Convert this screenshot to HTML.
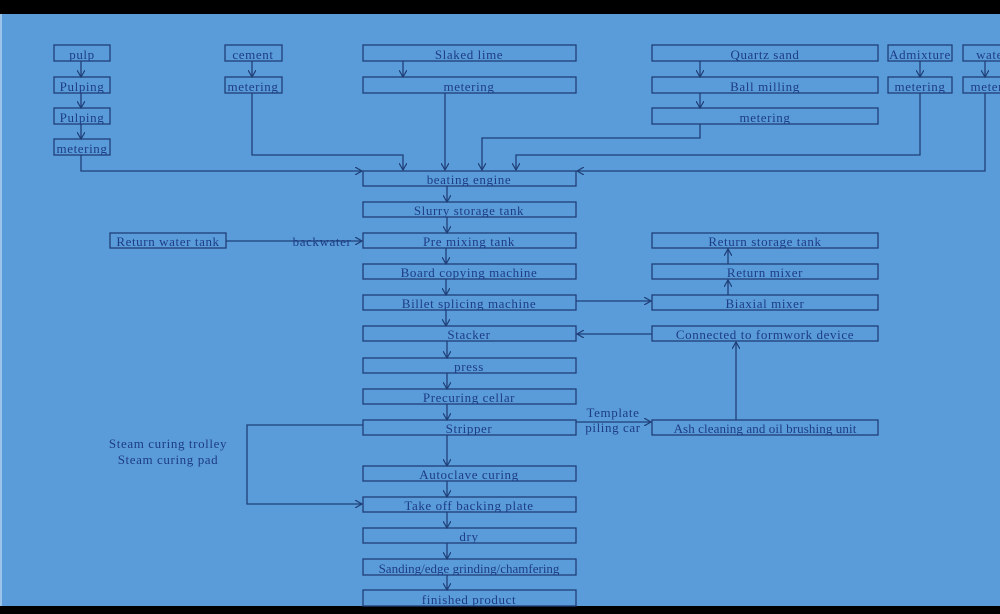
<!DOCTYPE html>
<html><head><style>
html,body{margin:0;padding:0;background:#000;}
svg{display:block;}
text{font-family:"Liberation Serif","DejaVu Serif",serif;font-size:13px;fill:#1d3c86;text-anchor:middle;letter-spacing:0.6px;}
</style></head><body>
<svg width="1000" height="614" viewBox="0 0 1000 614" xmlns="http://www.w3.org/2000/svg">
<defs><marker id="a" markerWidth="8" markerHeight="8" refX="7" refY="4" orient="auto" markerUnits="userSpaceOnUse"><path d="M0,0 L7,4 L0,8" fill="none" stroke="#1f3f78" stroke-width="1.2"/></marker></defs>
<rect x="0" y="0" width="1000" height="614" fill="#000"/>
<rect x="0" y="14" width="1000" height="592" fill="#5a9cd9"/>
<rect x="0" y="14" width="2" height="592" fill="#9cc4ea"/>
<g fill="none" stroke="#1f3f78" stroke-width="1.3">
<rect x="54" y="45" width="56" height="16"/><rect x="54" y="77" width="56" height="16"/><rect x="54" y="108" width="56" height="16"/><rect x="54" y="139" width="56" height="16"/>
<rect x="225" y="45" width="57" height="16"/><rect x="225" y="77" width="57" height="16"/>
<rect x="363" y="45" width="213" height="16"/><rect x="363" y="77" width="213" height="16"/>
<rect x="652" y="45" width="226" height="16"/><rect x="652" y="77" width="226" height="16"/><rect x="652" y="108" width="226" height="16"/>
<rect x="888" y="45" width="64" height="16"/><rect x="888" y="77" width="64" height="16"/>
<rect x="963" y="45" width="55" height="16"/><rect x="963" y="77" width="55" height="16"/>
<rect x="363" y="171" width="213" height="15"/><rect x="363" y="202" width="213" height="15"/><rect x="363" y="233" width="213" height="15"/><rect x="363" y="264" width="213" height="15"/><rect x="363" y="295" width="213" height="15"/><rect x="363" y="326" width="213" height="15"/><rect x="363" y="358" width="213" height="15"/><rect x="363" y="389" width="213" height="15"/><rect x="363" y="420" width="213" height="15"/><rect x="363" y="466" width="213" height="15"/><rect x="363" y="497" width="213" height="15"/><rect x="363" y="528" width="213" height="15"/><rect x="363" y="559" width="213" height="16"/><rect x="363" y="590" width="213" height="16"/>
<rect x="652" y="233" width="226" height="15"/><rect x="652" y="264" width="226" height="15"/><rect x="652" y="295" width="226" height="15"/><rect x="652" y="326" width="226" height="15"/><rect x="652" y="420" width="226" height="15"/>
<rect x="110" y="233" width="116" height="15"/>
</g>
<g fill="none" stroke="#1f3f78" stroke-width="1.3" marker-end="url(#a)">
<path d="M81 61V77"/><path d="M81 93V108"/><path d="M81 124V139"/>
<path d="M252 61V77"/><path d="M403 61V77"/><path d="M700 61V77"/><path d="M700 93V108"/><path d="M920 61V77"/><path d="M985 61V77"/>
<path d="M81 155V171H362"/>
<path d="M252 93V155H403V170"/>
<path d="M445 93V170"/>
<path d="M700 124V138H482V170"/>
<path d="M920 93V155H516V170"/>
<path d="M985 93V171H577"/>
<path d="M447 186V202"/><path d="M447 217V233"/><path d="M446 248V264"/><path d="M446 279V295"/><path d="M446 310V326"/><path d="M447 341V358"/><path d="M447 373V389"/><path d="M447 404V420"/><path d="M447 435V466"/><path d="M447 481V497"/><path d="M447 512V528"/><path d="M447 543V559"/><path d="M447 575V590"/>
<path d="M226 241H362"/>
<path d="M576 301H651"/>
<path d="M728 295V280"/><path d="M728 264V249"/>
<path d="M652 334H577"/>
<path d="M736 420V342"/>
<path d="M576 422H651"/>
<path d="M363 425H247V504H362"/>
</g>
<g>
<text x="82" y="59">pulp</text><text x="82" y="91">Pulping</text><text x="82" y="122">Pulping</text><text x="82" y="153">metering</text>
<text x="253" y="59">cement</text><text x="253" y="91">metering</text>
<text x="469" y="59">Slaked lime</text><text x="469" y="91">metering</text>
<text x="765" y="59">Quartz sand</text><text x="765" y="91">Ball milling</text><text x="765" y="122">metering</text>
<text x="920" y="59">Admixture</text><text x="920" y="91">metering</text>
<text x="992" y="59">water</text><text x="996" y="91">metering</text>
<text x="469" y="184">beating engine</text><text x="469" y="215">Slurry storage tank</text><text x="469" y="246">Pre mixing tank</text><text x="469" y="277">Board copying machine</text><text x="469" y="308">Billet splicing machine</text><text x="469" y="339">Stacker</text><text x="469" y="371">press</text><text x="469" y="402">Precuring cellar</text><text x="469" y="433">Stripper</text><text x="469" y="479">Autoclave curing</text><text x="469" y="510">Take off backing plate</text><text x="469" y="541">dry</text><text x="469" y="573" style="letter-spacing:0">Sanding/edge grinding/chamfering</text><text x="469" y="604">finished product</text>
<text x="765" y="246">Return storage tank</text><text x="765" y="277">Return mixer</text><text x="765" y="308">Biaxial mixer</text><text x="765" y="339">Connected to formwork device</text><text x="765" y="433" style="letter-spacing:0.1px">Ash cleaning and oil brushing unit</text>
<text x="168" y="246">Return water tank</text>
<text x="322" y="246">backwater</text>
<text x="613" y="417">Template</text><text x="613" y="432">piling car</text>
<text x="168" y="448">Steam curing trolley</text><text x="168" y="464">Steam curing pad</text>
</g>
</svg>
</body></html>
